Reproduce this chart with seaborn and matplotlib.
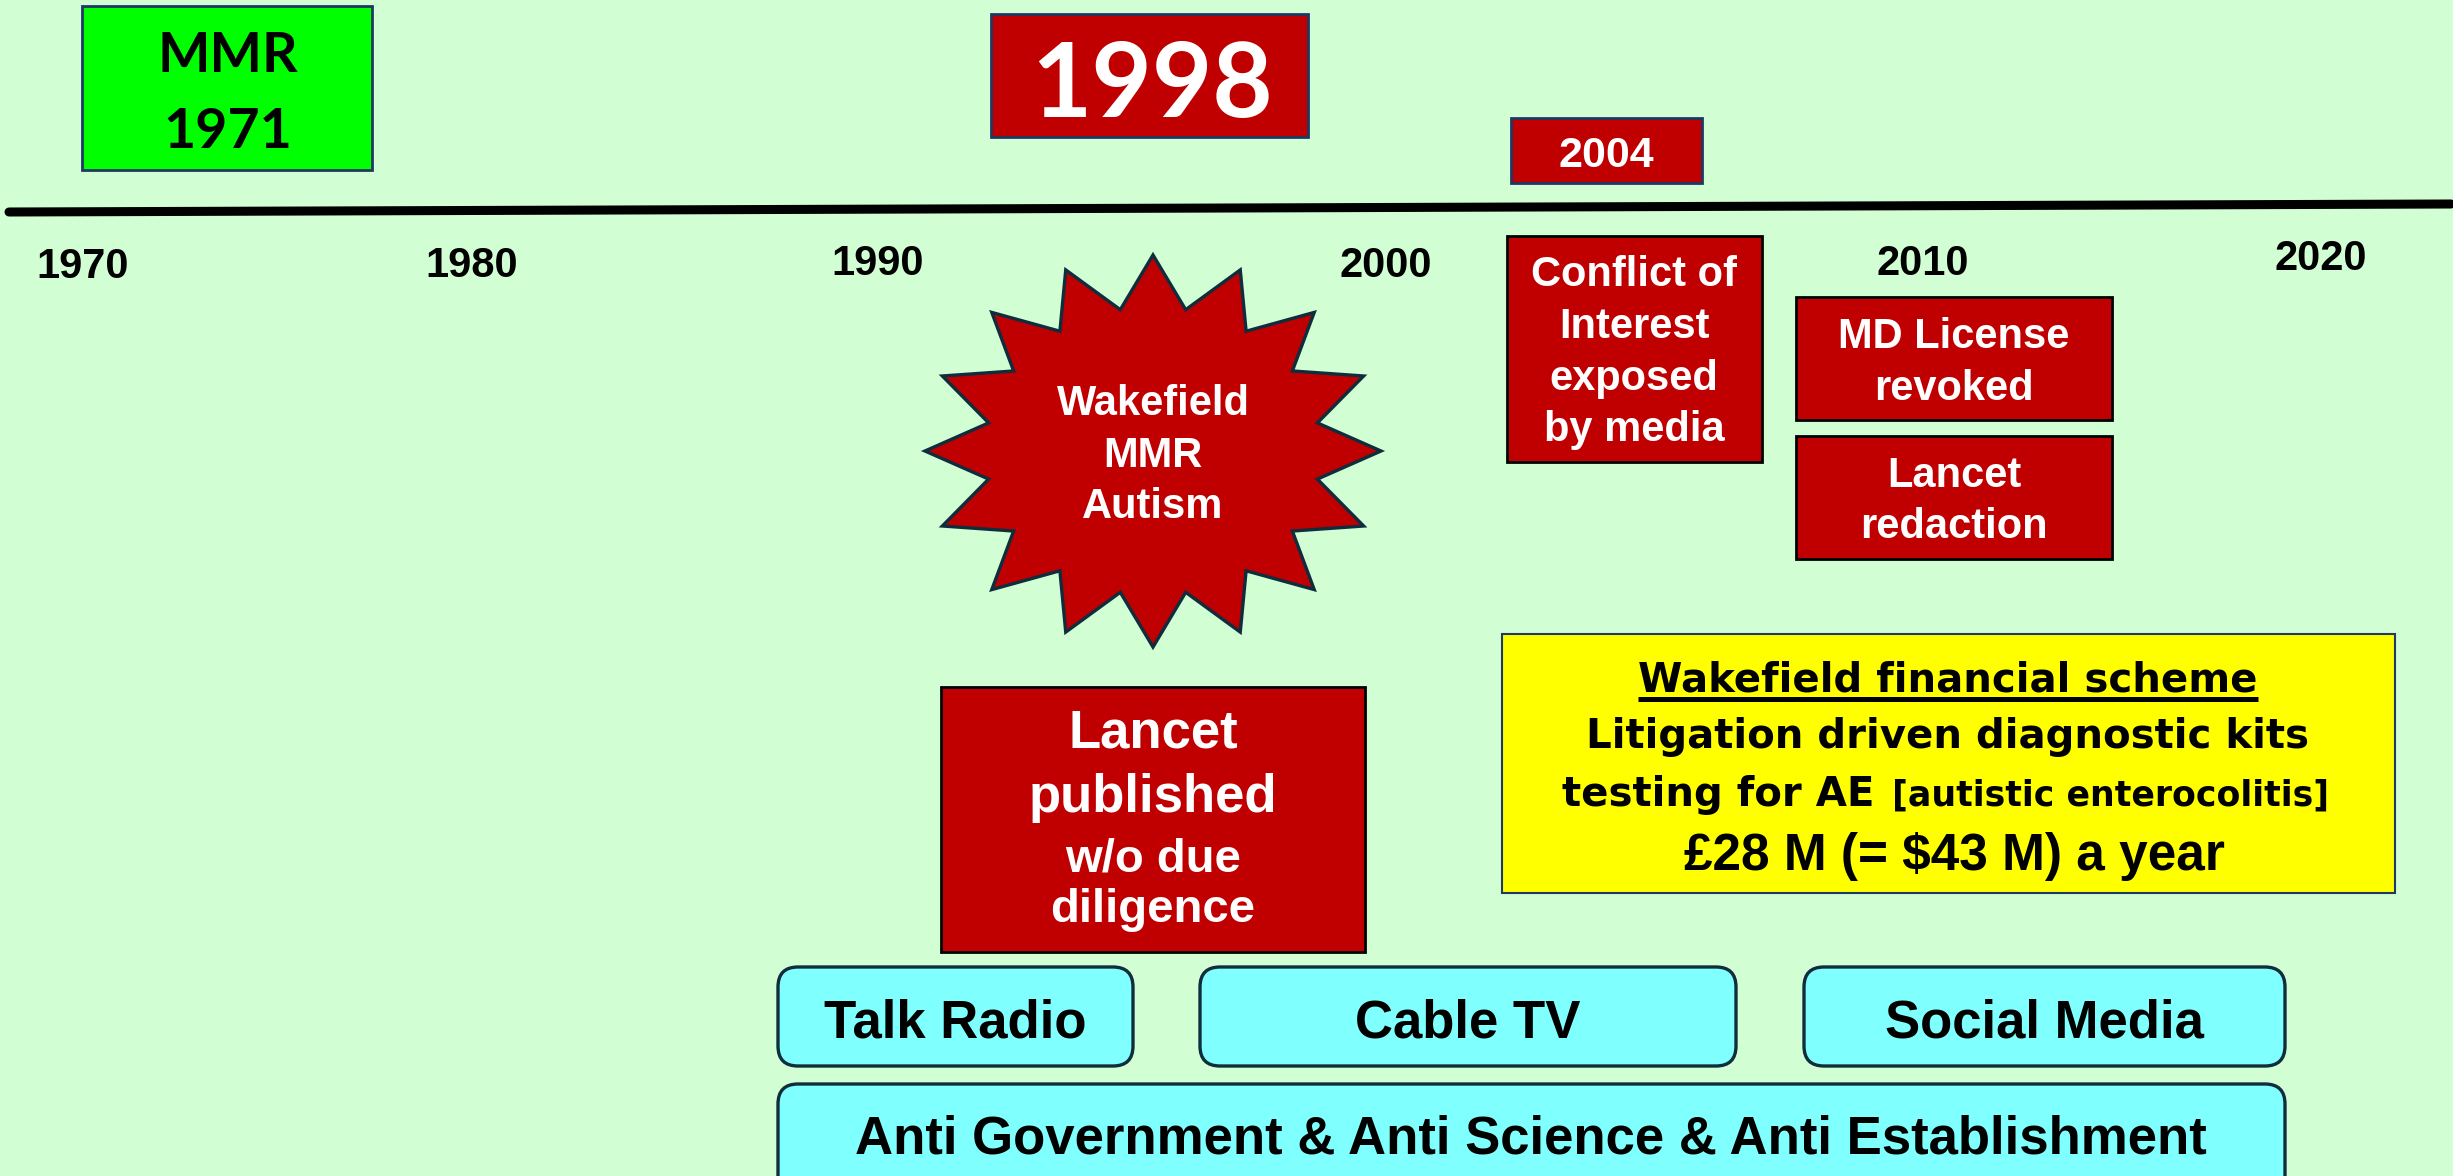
import numpy as np
import pandas as pd
import matplotlib
matplotlib.use('Agg')
import matplotlib.pyplot as plt
from matplotlib.patches import Rectangle, FancyBboxPatch, Polygon
import seaborn as sns

# ---- content ----
year_labels = ['1970', '1980', '1990', '2000', '2010', '2020']
mmr_lines = ['MMR', '1971']
star_lines = ['Wakefield', 'MMR', 'Autism']
lancet_pub_lines = ['Lancet', 'published', 'w/o due', 'diligence']
conflict_lines = ['Conflict of', 'Interest', 'exposed', 'by media']
license_lines = ['MD License', 'revoked']
redaction_lines = ['Lancet', 'redaction']
scheme_title = 'Wakefield financial scheme'
scheme_line2 = 'Litigation driven diagnostic kits'
scheme_line3a = 'testing for AE'
scheme_line3b = '[autistic enterocolitis]'
scheme_line4 = '£28 M (= $43 M) a year'
media_labels = ['Talk Radio', 'Cable TV', 'Social Media']
anti_label = 'Anti Government & Anti Science & Anti Establishment'

# ---- layout (pixel coordinates of the 2453x1176 canvas) ----
W, H = 2453, 1176
year_x = [83, 472, 878, 1386, 1923, 2321]
year_base = [278, 277, 275, 277, 275, 270]
timeline = pd.DataFrame({'x': [9, 2451], 'y': [212, 204]})

BG = '#D2FED4'
RED = '#C00000'
NAVY = '#1F3864'
TEAL = '#0F2D3C'

sns.set_theme(style='white')
plt.rcParams['font.family'] = ['Liberation Sans', 'DejaVu Sans']

fig = plt.figure(figsize=(W / 100, H / 100), dpi=100)
fig.patch.set_facecolor(BG)
ax = fig.add_axes([0, 0, 1, 1])
ax.set_facecolor(BG)

# timeline
sns.lineplot(data=timeline, x='x', y='y', color='black', linewidth=6.5, ax=ax)

for lab, x, b in zip(year_labels, year_x, year_base):
    ax.text(x, b, lab, ha='center', va='baseline', fontsize=30,
            fontweight='bold', color='black')


def box(x0, y0, x1, y1, fc, ec, lw=1.5):
    ax.add_patch(Rectangle((x0, y0), x1 - x0, y1 - y0, facecolor=fc,
                           edgecolor=ec, linewidth=lw, zorder=2))


def rbox(x0, y0, x1, y1):
    ax.add_patch(FancyBboxPatch((x0, y0), x1 - x0, y1 - y0,
                                boxstyle='round,pad=0,rounding_size=20',
                                facecolor='#80FFFF', edgecolor=TEAL,
                                linewidth=2.4, zorder=2))


def lines(xc, bases, texts, size, color='white', family=None):
    for t, b in zip(texts, bases):
        kw = {} if family is None else {'family': family}
        ax.text(xc, b, t, ha='center', va='baseline', fontsize=size,
                fontweight='bold', color=color, zorder=3, **kw)


# MMR 1971
box(82, 6, 372, 170, '#00FF00', NAVY, 2)
lines(228, [72, 148], mmr_lines, 40, 'black', ['Lato', 'DejaVu Sans'])

# 1998
box(991, 14, 1308, 137, RED, NAVY, 2)
lines(1152, [117], ['1998'], 75, 'white', ['Lato', 'DejaVu Sans'])

# 2004
box(1511, 118, 1702, 183, RED, NAVY, 2)
lines(1606, [167], ['2004'], 31, 'white')

# star burst
cx, cy, rx, ry = 1153, 451, 228, 196
ang = np.arange(32) * np.pi / 16
rad = np.where(np.arange(32) % 2 == 0, 1.0, 0.735)
pts = np.column_stack([cx + rx * rad * np.sin(ang), cy - ry * rad * np.cos(ang)])
ax.add_patch(Polygon(pts, closed=True, facecolor=RED, edgecolor=TEAL,
                     linewidth=2.4, zorder=2))
lines(1153, [415, 467, 518], star_lines, 30)

# Lancet published
box(941, 687, 1365, 952, RED, 'black', 2)
lines(1153, [748, 812], lancet_pub_lines[:2], 38)
lines(1153, [872, 922], lancet_pub_lines[2:], 34)

# conflict of interest
box(1507, 236, 1762, 462, RED, 'black', 2)
lines(1634, [286, 338, 390, 441], conflict_lines, 30)

# MD license / redaction
box(1796, 297, 2112, 420, RED, 'black', 2)
lines(1954, [348, 400], license_lines, 30)
box(1796, 436, 2112, 559, RED, 'black', 2)
lines(1954, [487, 538], redaction_lines, 30)

# financial scheme box
box(1502, 634, 2395, 893, '#FFFF00', NAVY, 1.5)
dv = ['DejaVu Sans']
t_title = ax.text(1948, 692, scheme_title, ha='center', va='baseline', fontsize=29,
                  fontweight='bold', family=dv, color='black', zorder=3)
lines(1948, [748], [scheme_line2], 29, 'black', dv)
ax.text(1874, 806, scheme_line3a, ha='right', va='baseline', fontsize=29,
        fontweight='bold', family=dv, color='black', zorder=3)
ax.text(1892, 806, scheme_line3b, ha='left', va='baseline', fontsize=25,
        fontweight='bold', family=dv, color='black', zorder=3)
lines(1954, [870], [scheme_line4], 37, 'black')

# media boxes
media_x = [(778, 1133), (1200, 1736), (1804, 2285)]
for lab, (x0, x1) in zip(media_labels, media_x):
    rbox(x0, 967, x1, 1066)
    lines((x0 + x1) / 2, [1037], [lab], 38, 'black')
rbox(778, 1084, 2285, 1200)
lines(1531, [1153], [anti_label], 38, 'black')

ax.set_xlim(0, W)
ax.set_ylim(H, 0)
ax.axis('off')

# underline the scheme title
fig.canvas.draw()
bb = t_title.get_window_extent().transformed(ax.transData.inverted())
ax.plot([bb.x0, bb.x1], [699, 699], color='black', linewidth=3.6, zorder=3,
        solid_capstyle='butt')

fig.savefig('out.png', dpi=100, facecolor=BG)
